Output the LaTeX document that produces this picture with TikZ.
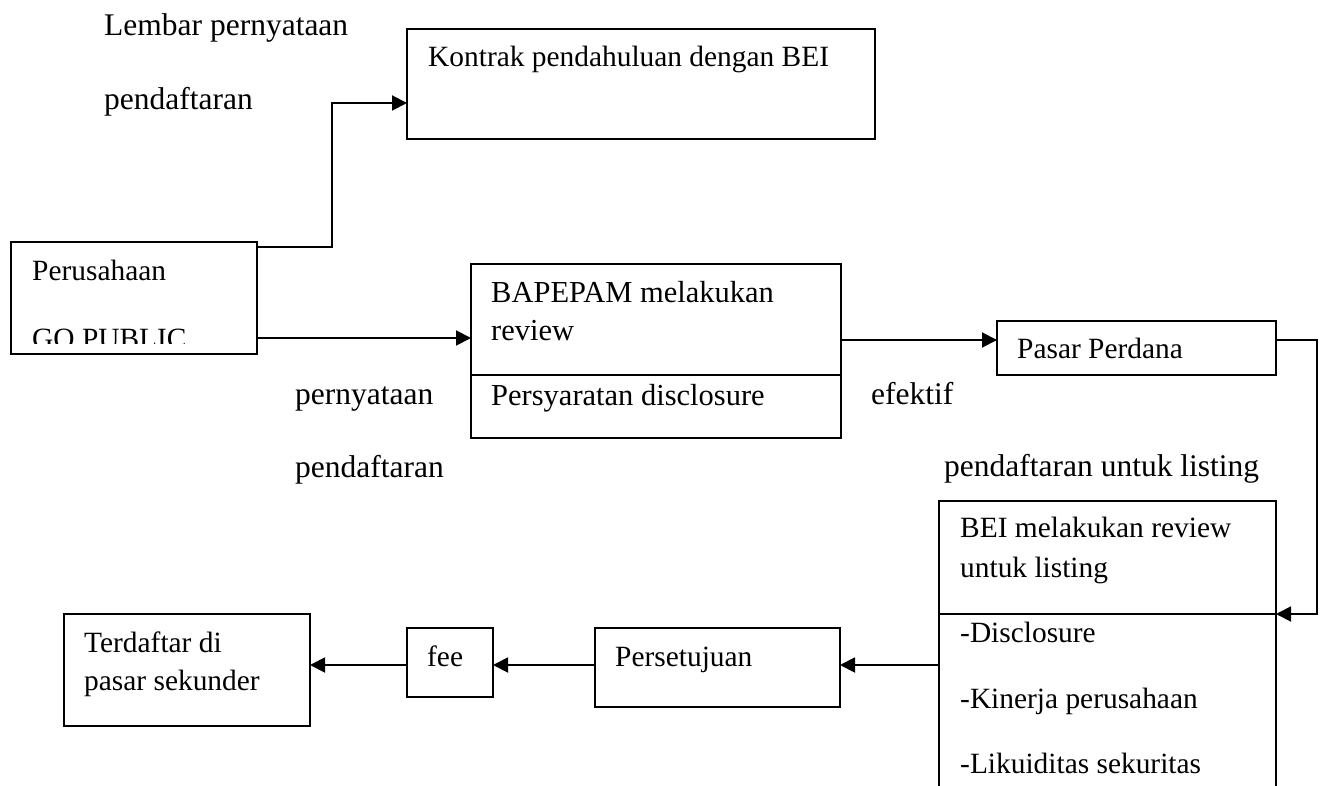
\documentclass[tikz,border=0pt]{standalone}
\usepackage{fontspec}
\setmainfont{Liberation Serif}
\usetikzlibrary{arrows.meta}
\tikzset{
  box/.style={draw, line width=1.9pt, inner sep=0pt, outer sep=0pt},
  txt/.style={anchor=base west, inner sep=0pt, font=\fontsize{31.5}{31.5}\selectfont},
  mtxt/.style={anchor=base west, inner sep=0pt, font=\fontsize{30.5}{30.5}\selectfont},
  stxt/.style={anchor=base west, inner sep=0pt, font=\fontsize{29.4}{29.4}\selectfont},
  conn/.style={line width=1.9pt},
  arr/.style={line width=1.9pt, -{Triangle[length=15pt,width=15pt]}},
}
\begin{document}
\begin{tikzpicture}[x=1pt,y=-1pt]
\useasboundingbox[fill=white] (0,0) rectangle (1325,786);
% boxes
\node[box, minimum width=468pt, minimum height=110pt] (kontrak) at (641,84) {};
\node[box, minimum width=246pt, minimum height=112pt] (perus) at (134,298) {};
\node[box, minimum width=370pt, minimum height=174pt] (bapepam) at (656,351) {};
\node[box, minimum width=279pt, minimum height=54pt] (pasar) at (1136.5,348) {};
\node[box, minimum width=337pt, minimum height=319pt] (bei) at (1107.5,660.5) {};
\node[box, minimum width=245pt, minimum height=79pt] (setuju) at (717.5,667.5) {};
\node[box, minimum width=86pt, minimum height=69pt] (fee) at (450,662.5) {};
\node[box, minimum width=246pt, minimum height=112pt] (daftar) at (187,670) {};
% dividers
\draw[conn] (bapepam.west |- 0,375) -- (bapepam.east |- 0,375);
\draw[conn] (bei.west |- 0,614) -- (bei.east |- 0,614);
% texts
\node[txt] (t1) at (104,36) {Lembar pernyataan};
\node[txt] (t2) at (104,110) {pendaftaran};
\node[stxt] (t3) at (428,67) {Kontrak pendahuluan dengan BEI};
\node[stxt] (t4) at (32,280) {Perusahaan};
\begin{scope}
\clip (0,0) rectangle (1325,343);
\node[stxt] (t5) at (32,348) {GO PUBLIC};
\end{scope}
\node[mtxt] (t6) at (491,303) {BAPEPAM melakukan};
\node[mtxt] (t7) at (491,340) {review};
\node[mtxt] (t8) at (491,405) {Persyaratan disclosure};
\node[txt] (t9) at (295,404) {pernyataan};
\node[txt] (t10) at (295,477) {pendaftaran};
\node[txt] (t11) at (871,404) {efektif};
\node[stxt] (t12) at (1017,358) {Pasar Perdana};
\node[txt] (t13) at (944,476) {pendaftaran untuk listing};
\node[stxt] (t14) at (960,537) {BEI melakukan review};
\node[stxt] (t15) at (960,577) {untuk listing};
\node[stxt] (t16) at (960,642) {-Disclosure};
\node[stxt] (t17) at (960,708) {-Kinerja perusahaan};
\node[stxt] (t18) at (960,773) {-Likuiditas sekuritas};
\node[stxt] (t19) at (615,666) {Persetujuan};
\node[stxt] (t20) at (427,666) {fee};
\node[stxt] (t21) at (84,652) {Terdaftar di};
\node[stxt] (t22) at (84,690) {pasar sekunder};
% connectors
\coordinate (c1) at (332,247);
\coordinate (c2) at (1317,340);
\draw[arr] (perus.east |- c1) -- (c1) |- (kontrak.west |- 0,103);
\draw[arr] (perus.east |- 0,338) -- (bapepam.west |- 0,338);
\draw[arr] (bapepam.east |- 0,340) -- (pasar.west |- 0,340);
\draw[arr] (pasar.east |- c2) -- (c2) |- (bei.east |- 0,614);
\draw[arr] (bei.west |- 0,665) -- (setuju.east |- 0,665);
\draw[arr] (setuju.west |- 0,665) -- (fee.east |- 0,665);
\draw[arr] (fee.west |- 0,665) -- (daftar.east |- 0,665);
\end{tikzpicture}
\end{document}
